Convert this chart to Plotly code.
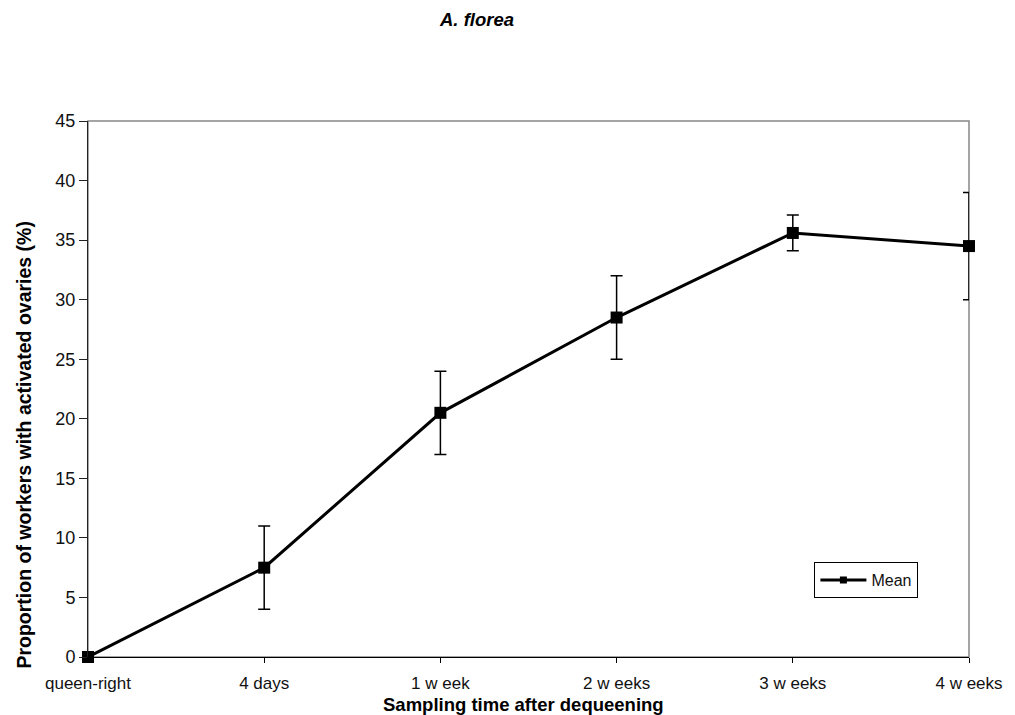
import plotly.graph_objects as go

categories = ["queen-right", "4 days", "1 w eek", "2 w eeks", "3 w eeks", "4 w eeks"]
mean_values = [0, 7.5, 20.5, 28.5, 35.6, 34.5]
error_values = [0, 3.5, 3.5, 3.5, 1.5, 4.5]
y_ticks = [0, 5, 10, 15, 20, 25, 30, 35, 40, 45]

# page body has an 8px margin, so the figure is laid out 8px smaller
OFF = 8
W, H = 1015 - OFF, 715 - OFF
L, R, T, B = 88 - OFF, 977 - OFF, 121 - OFF, 657 - OFF

FONT = "Liberation Sans, Arial, sans-serif"


def px_x(x):
    return (x - OFF - L) / (R - L)


def px_y(y):
    return (B - (y - OFF)) / (B - T)


fig = go.Figure()
fig.add_trace(go.Scatter(
    x=categories, y=mean_values, name="Mean",
    mode="lines+markers",
    line=dict(color="black", width=3),
    marker=dict(symbol="square", size=12, color="black"),
    error_y=dict(type="data", array=error_values, visible=True,
                 color="black", thickness=1.5, width=6),
    cliponaxis=False, showlegend=False,
))
# legend entry (smaller marker, as in the reference legend)
fig.add_trace(go.Scatter(
    x=[None], y=[None], name="Mean", mode="lines+markers",
    line=dict(color="black", width=3),
    marker=dict(symbol="square", size=7, color="black"),
    showlegend=True,
))

fig.update_layout(
    width=W, height=H,
    margin=dict(l=L, r=W - R, t=T, b=H - B),
    paper_bgcolor="white", plot_bgcolor="white",
    font=dict(family=FONT, size=17, color="#111"),
    showlegend=True,
    legend=dict(
        x=px_x(821), y=px_y(562),
        xanchor="left", yanchor="top",
        bgcolor="white", bordercolor="black", borderwidth=1,
        font=dict(size=16, family=FONT, color="#111"),
        itemwidth=46, tracegroupgap=0,
    ),
    xaxis=dict(
        type="category", range=[0, 5],
        showgrid=False, zeroline=False,
        showline=True, linecolor="black", linewidth=1,
        ticks="outside", ticklen=5, tickcolor="black",
        ticklabelstandoff=6,
        tickfont=dict(size=17, family=FONT, color="#111"),
    ),
    yaxis=dict(
        range=[0, 45], tickvals=y_ticks,
        showgrid=False, zeroline=False,
        showline=True, linecolor="#222", linewidth=1,
        ticks="outside", ticklen=8, tickcolor="#222",
        tickfont=dict(size=18, family=FONT, color="#111"),
    ),
    shapes=[dict(type="rect", xref="paper", yref="paper", x0=0, x1=1, y0=0, y1=1,
                 line=dict(color="#888888", width=1.5), layer="below")],
    annotations=[
        dict(text="<b><i>A. florea</i></b>", xref="paper", yref="paper",
             x=px_x(480), y=px_y(20), xanchor="center", yanchor="middle",
             showarrow=False, font=dict(size=18.5, family=FONT, color="black")),
        dict(text="<b>Sampling time after dequeening</b>", xref="paper", yref="paper",
             x=px_x(527), y=px_y(704), xanchor="center", yanchor="middle",
             showarrow=False, font=dict(size=18.5, family=FONT, color="black")),
        dict(text="<b>Proportion of workers with activated ovaries (%)</b>", xref="paper", yref="paper",
             x=px_x(23), y=px_y(445), xanchor="center", yanchor="middle", textangle=-90,
             showarrow=False, font=dict(size=19.5, family=FONT, color="black")),
    ],
)

fig.write_html("out.html")
